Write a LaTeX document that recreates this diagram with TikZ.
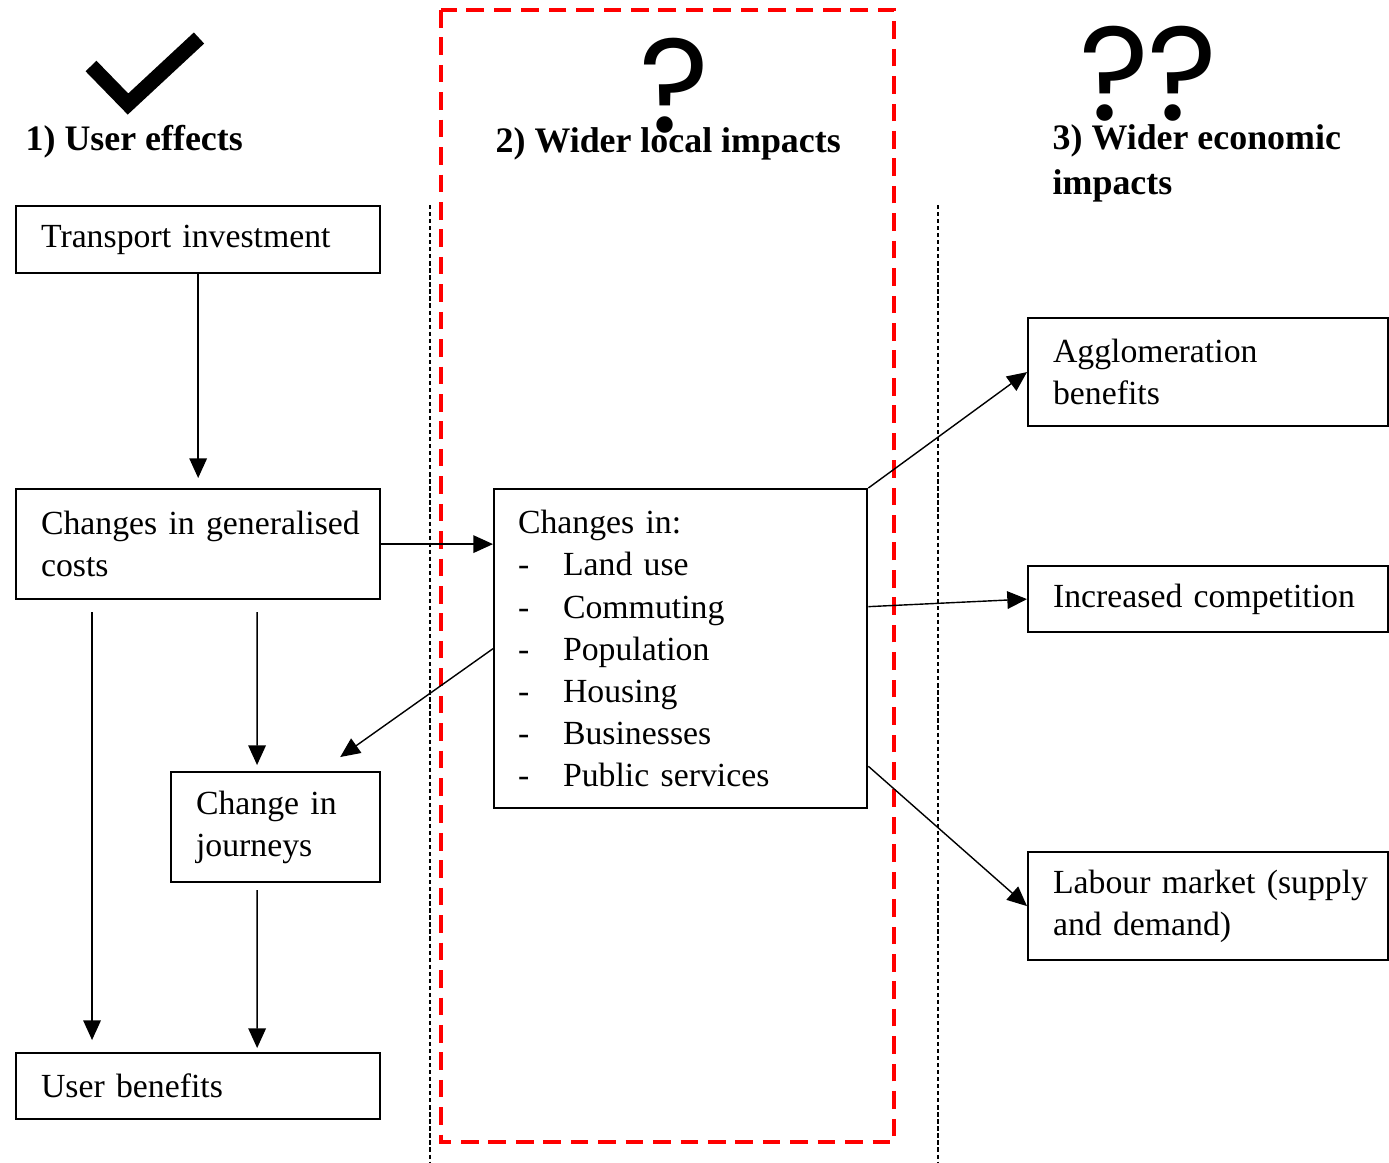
\documentclass[tikz,border=0pt]{standalone}
\usepackage{fontspec}
\setmainfont{Liberation Serif}
\newfontfamily\qfont{Poppins}
\usetikzlibrary{arrows.meta}
\hyphenpenalty=10000
\exhyphenpenalty=10000

\tikzset{
  box/.style={draw, line width=0.6pt, anchor=north west, align=left, inner xsep=0.25cm, inner ysep=0pt, font=\fontsize{9.6}{12}\selectfont},
  arr/.style={-{Triangle[length=5.6pt,width=5pt]}, line width=0.4pt},
  head/.style={inner sep=0pt, align=left, font=\fontsize{10.2}{12.8}\selectfont\bfseries},
  qmark/.style={anchor=base, inner sep=0pt, font=\qfont\fontsize{38}{38}\selectfont},
  sepline/.style={line width=0.75pt, dash pattern=on 1.2pt off 0.8pt}
}
\newcommand{\itm}[1]{\makebox[0.45cm][l]{-}#1}

\begin{document}
\begin{tikzpicture}[x=0.01cm, y=-0.01cm]
	\useasboundingbox (0,0) rectangle (1389,1162);

	% separators and the highlighted column
	\draw[sepline] (430,205) -- (430,1162);
	\draw[sepline] (938,205) -- (938,1162);
	\draw[red, line width=1.1pt, dash pattern=on 5pt off 2.8pt] (441,10) rectangle (894,1142);

	% column headings
	\node[head, anchor=base west] (h1) at (25,150) {1) User effects};
	\node[head, anchor=base west] (h2) at (495,152) {2) Wider local impacts};
	\node[head, anchor=north west] (h3) at (1052,124) {3) Wider economic\\impacts};

	% marks
	\draw[line width=4.3pt] (91,66) -- (128,104) -- (199,38);
	\node[qmark] (q1) at (674,132) {?};
	\node[qmark] (q2) at (1114,120) {?};
	\node[qmark] (q3) at (1182,120) {?};

	% user effects
	\node[box, text width=3.14cm, minimum height=0.67cm] (trans) at (15,205) {Transport investment};
	\node[box, text width=3.14cm, minimum height=1.10cm] (gcost) at (15,488) {\mbox{Changes in generalised}\\costs};
	\node[box, text width=1.59cm, minimum height=1.10cm] (journ) at (170,771) {\mbox{Change in}\\journeys};
	\node[box, text width=3.14cm, minimum height=0.66cm] (ubene) at (15,1052) {User benefits};

	% wider local impacts
	\node[box, inner xsep=0.24cm, text width=3.25cm, minimum height=3.19cm] (local) at (493,488)
		{Changes in:\\\itm{Land use}\\\itm{Commuting}\\\itm{Population}\\\itm{Housing}\\\itm{Businesses}\\\itm{Public services}};

	% wider economic impacts
	\node[box, text width=3.10cm, minimum height=1.08cm] (agglo) at (1027,317) {Agglomeration\\benefits};
	\node[box, text width=3.10cm, minimum height=0.66cm] (compe) at (1027,565) {\mbox{Increased competition}};
	\node[box, text width=3.10cm, minimum height=1.08cm] (labour) at (1027,851) {\mbox{Labour market (supply}\\and demand)};

	% arrows
	\draw[arr, shorten >=0.1cm] (trans) -- (gcost);
	\draw[arr] (gcost.east) -- (gcost.east -| local.west);
	\draw[arr] ([xshift=0.77cm,yshift=-0.12cm]gcost.south west) -- ([xshift=0.77cm,yshift=0.12cm]ubene.north west);
	\draw[arr] ([xshift=2.42cm,yshift=-0.12cm]gcost.south west) -- ([xshift=0.87cm,yshift=0.06cm]journ.north west);
	\draw[arr] ([xshift=0.87cm,yshift=-0.07cm]journ.south west) -- ([xshift=2.42cm,yshift=0.04cm]ubene.north west);
	\draw[arr] (local.west) -- ([xshift=-0.41cm,yshift=0.14cm]journ.north east);
	\draw[arr] (local.north east) -- (agglo.west);
	\draw[arr] ([yshift=0.42cm]local.east) -- (compe.west);
	\draw[arr] ([yshift=-1.175cm]local.east) -- (labour.west);
\end{tikzpicture}
\end{document}
